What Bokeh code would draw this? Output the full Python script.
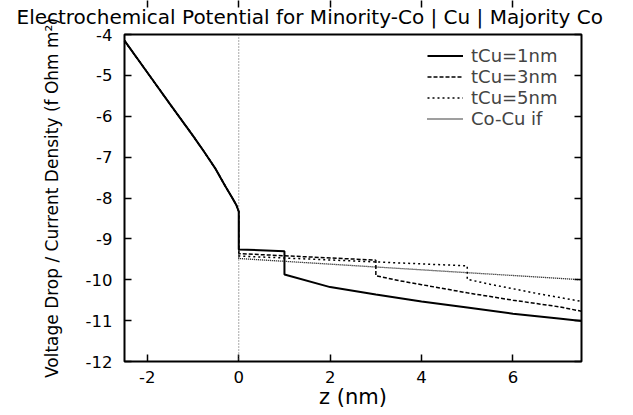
from bokeh.plotting import figure
from bokeh.models import (Range1d, FixedTicker, LinearAxis, Legend, LegendItem, Span, Title,
                          PrintfTickFormatter, CustomJSTickFormatter)
from bokeh.embed import file_html
from bokeh.resources import INLINE

# ---- data ----
# common minority-Co region (z < 0)
z_co = [-2.5, -2.0, -1.5, -1.0, -0.75, -0.5, -0.3, -0.15, -0.05, 0.0]
v_co = [-4.15, -4.93, -5.71, -6.48, -6.88, -7.30, -7.70, -7.98, -8.18, -8.33]

# tCu = 1 nm
z_cu1 = [0.0, 1.0]
v_cu1 = [-9.26, -9.30]
z_maj1 = [1.0, 2.0, 3.0, 4.0, 5.0, 6.0, 7.0, 7.5]
v_maj1 = [-9.87, -10.18, -10.36, -10.53, -10.68, -10.83, -10.95, -11.01]

# tCu = 3 nm
z_cu3 = [0.0, 3.0]
v_cu3 = [-9.36, -9.52]
z_maj3 = [3.0, 3.5, 4.0, 5.0, 6.0, 7.0, 7.5]
v_maj3 = [-9.90, -10.02, -10.12, -10.32, -10.50, -10.66, -10.77]

# tCu = 5 nm
z_cu5 = [0.0, 5.0]
v_cu5 = [-9.42, -9.66]
z_maj5 = [5.0, 5.5, 6.0, 6.5, 7.0, 7.5]
v_maj5 = [-9.99, -10.11, -10.22, -10.33, -10.43, -10.53]

# single Co-Cu interface
z_if = [0.0, 7.5]
v_if = [-9.48, -10.00]

interface_z = 0.0

series_labels = ["tCu=1nm", "tCu=3nm", "tCu=5nm", "Co-Cu if"]
x_ticks = [-2, 0, 2, 4, 6]
y_ticks = [-12, -11, -10, -9, -8, -7, -6, -5, -4]

FONT = "DejaVu Sans"

p = figure(width=633, height=415, output_backend="svg", toolbar_location=None,
           x_range=Range1d(-2.5, 7.5), y_range=Range1d(-12, -4),
           min_border_left=124, min_border_right=52, min_border_top=34,
           min_border_bottom=54, title=None)
p.add_layout(Title(text="Electrochemical Potential for Minority-Co | Cu | Majority Co",
                   align="left", offset=-108, text_font=FONT, text_font_size="20px",
                   text_color="black", vertical_align="top",
                   text_font_style="normal", standoff=8), "above")

p.background_fill_color = "white"
p.border_fill_color = "white"
p.outline_line_color = "black"
p.outline_line_width = 2
p.xgrid.visible = False
p.ygrid.visible = False

for ax in p.xaxis:
    ax.ticker = FixedTicker(ticks=x_ticks)
    ax.axis_label = "z (nm)"
    ax.axis_label_text_font_size = "21px"
    ax.formatter = PrintfTickFormatter(format="%d")
    ax.major_label_standoff = 9
    ax.axis_label_standoff = -1
for ax in p.yaxis:
    ax.ticker = FixedTicker(ticks=y_ticks)
    ax.axis_label = "Voltage Drop / Current Density (f Ohm m\u00b2)"
    ax.axis_label_text_font_size = "17px"
    ax.formatter = PrintfTickFormatter(format="%d")
    ax.major_label_standoff = 12
    ax.axis_label_standoff = 21

blank = CustomJSTickFormatter(code="return ''")
top = LinearAxis(ticker=FixedTicker(ticks=x_ticks), formatter=blank)
right = LinearAxis(ticker=FixedTicker(ticks=y_ticks), formatter=blank)
p.add_layout(top, "above")
p.add_layout(right, "right")

for ax in p.axis:
    ax.axis_line_color = None
    ax.major_tick_in = 7
    ax.major_tick_out = 0
    ax.major_tick_line_width = 1.5
    ax.major_tick_line_color = "black"
    ax.minor_tick_line_color = None
    ax.major_label_text_font = FONT
    ax.major_label_text_font_size = "16.5px"
    ax.major_label_text_color = "black"
    ax.axis_label_text_font = FONT
    ax.axis_label_text_font_style = "normal"
    ax.axis_label_text_color = "black"

top.major_label_standoff = 0
right.major_label_standoff = 0

# interface marker
p.add_layout(Span(location=interface_z, dimension="height", line_color="#555555",
                  line_width=1, line_dash="1 2"))

styles = [dict(line_width=2.0, line_dash="solid"),
          dict(line_width=1.5, line_dash="4 2"),
          dict(line_width=1.5, line_dash="2 3"),
          dict(line_width=1.3, line_dash="1 1")]
xs = [z_co + z_cu1 + z_maj1, z_co + z_cu3 + z_maj3, z_co + z_cu5 + z_maj5, z_co + z_if]
ys = [v_co + v_cu1 + v_maj1, v_co + v_cu3 + v_maj3, v_co + v_cu5 + v_maj5, v_co + v_if]

renderers = []
for x, y, st in zip(xs, ys, styles):
    renderers.append(p.line(x, y, line_color="black", **st))
renderers[0].level = "overlay"

legend = Legend(items=[LegendItem(label=l, renderers=[r]) for l, r in zip(series_labels, renderers)],
                location=(303, 232), border_line_color=None, background_fill_alpha=0,
                label_text_font=FONT, label_text_font_size="18px", label_height=19,
                glyph_height=19, glyph_width=36, spacing=0, padding=0, margin=0,
                label_standoff=8)
p.add_layout(legend)

open("out.html", "w").write(file_html(p, INLINE))
